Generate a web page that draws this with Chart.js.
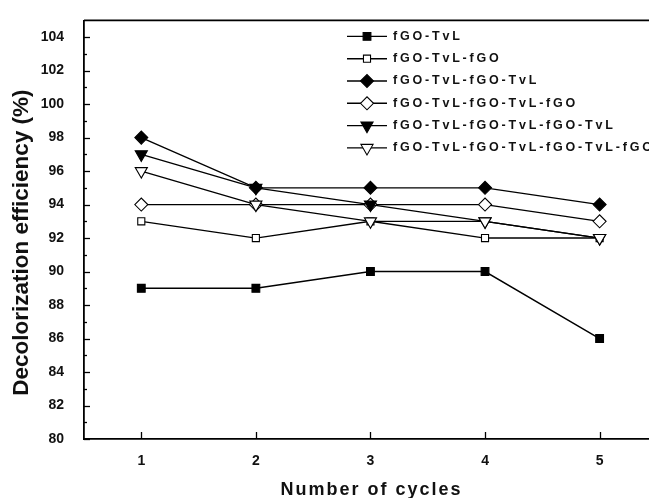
<!DOCTYPE html>
<html><head><meta charset="utf-8">
<script src="https://cdn.jsdelivr.net/npm/chart.js@4.4.0/dist/chart.umd.min.js"></script>
<style>html,body{margin:0;padding:0;overflow:hidden;background:#fff;width:649px;height:498px}canvas{display:block}</style>
</head><body><canvas id="c" width="665" height="498"></canvas>
<script>
// ---- data ----
const cycles = [1, 2, 3, 4, 5];
const seriesNames = ['fGO-TvL', 'fGO-TvL-fGO', 'fGO-TvL-fGO-TvL', 'fGO-TvL-fGO-TvL-fGO', 'fGO-TvL-fGO-TvL-fGO-TvL', 'fGO-TvL-fGO-TvL-fGO-TvL-fGO'];
const s1 = [89, 89, 90, 90, 86];
const s2 = [93, 92, 93, 92, 92];
const s3 = [98, 95, 95, 95, 94];
const s4 = [94, 94, 94, 94, 93];
const s5 = [97, 95, 94, 93, 92];
const s6 = [96, 94, 93, 93, 92];
const yTickValues = [80, 82, 84, 86, 88, 90, 92, 94, 96, 98, 100, 102, 104];
const xTickValues = [1, 2, 3, 4, 5];
const yTitle = 'Decolorization efficiency (%)';
const xTitle = 'Number of cycles';

// ---- styles ----
const seriesValues = [s1, s2, s3, s4, s5, s6];
const markerStyles = [
  {pointStyle: 'rect', radius: 5.5, rotation: 0, fill: '#000'},
  {pointStyle: 'rect', radius: 5, rotation: 0, fill: '#fff'},
  {pointStyle: 'rectRot', radius: 6.5, rotation: 0, fill: '#000'},
  {pointStyle: 'rectRot', radius: 6.5, rotation: 0, fill: '#fff'},
  {pointStyle: 'triangle', radius: 7, rotation: 180, fill: '#000'},
  {pointStyle: 'triangle', radius: 7, rotation: 180, fill: '#fff'}
];

const datasets = seriesNames.map((name, i) => ({
  label: name,
  data: cycles.map((c, j) => ({x: c, y: seriesValues[i][j]})),
  borderColor: '#000',
  borderWidth: 1.4,
  pointStyle: markerStyles[i].pointStyle,
  pointRadius: markerStyles[i].radius,
  pointRotation: markerStyles[i].rotation,
  pointBackgroundColor: markerStyles[i].fill,
  pointBorderColor: '#000',
  pointBorderWidth: 1.1,
  tension: 0,
  fill: false,
  order: -i
}));

const framePlugin = {
  id: 'frame',
  beforeDatasetsDraw(chart) {
    const ctx = chart.ctx, a = chart.chartArea;
    const ys = chart.scales.y, xs = chart.scales.x;
    ctx.save();
    ctx.strokeStyle = '#000';
    ctx.lineWidth = 1.3;
    for (let v = 80; v <= 104; v++) {
      const py = Math.round(ys.getPixelForValue(v)) + 0.5;
      const len = (v % 2 === 0) ? 6 : 3;
      ctx.beginPath(); ctx.moveTo(a.left, py); ctx.lineTo(a.left + len, py); ctx.stroke();
    }
    xTickValues.forEach(v => {
      const px = Math.round(xs.getPixelForValue(v)) + 0.5;
      ctx.beginPath(); ctx.moveTo(px, a.bottom); ctx.lineTo(px, a.bottom - 7); ctx.stroke();
    });
    ctx.lineWidth = 1.8;
    ctx.beginPath();
    ctx.moveTo(a.left, a.top); ctx.lineTo(a.right, a.top); ctx.lineTo(a.right, a.bottom);
    ctx.stroke();
    ctx.restore();
  },
  afterDraw(chart) {
    const ctx = chart.ctx, a = chart.chartArea;
    ctx.save();
    ctx.fillStyle = '#111';
    ctx.font = 'bold 22.5px "Liberation Sans", Arial, sans-serif';
    ctx.textAlign = 'center';
    ctx.textBaseline = 'middle';
    ctx.translate(22, (a.top + a.bottom) / 2 + 13);
    ctx.rotate(-Math.PI / 2);
    ctx.fillText(yTitle, 0, 0);
    ctx.restore();
    ctx.save();
    ctx.fillStyle = '#111';
    ctx.font = 'bold 18px "Liberation Sans", Arial, sans-serif';
    ctx.textAlign = 'center';
    ctx.textBaseline = 'middle';
    try { ctx.letterSpacing = '2px'; } catch (e) {}
    ctx.fillText(xTitle, (a.left + a.right) / 2 + 1, 490);
    ctx.restore();
    // legend
    ctx.save();
    const rowTop = a.top + 16, rowGap = 22.3;
    seriesNames.forEach((name, i) => {
      const y = rowTop + i * rowGap;
      ctx.strokeStyle = '#000';
      ctx.lineWidth = 1.4;
      ctx.beginPath(); ctx.moveTo(347, y); ctx.lineTo(387, y); ctx.stroke();
      ctx.fillStyle = markerStyles[i].fill;
      ctx.strokeStyle = '#000';
      ctx.lineWidth = 1.1;
      Chart.helpers.drawPoint(ctx, {
        pointStyle: markerStyles[i].pointStyle,
        radius: markerStyles[i].radius,
        rotation: markerStyles[i].rotation,
        borderWidth: 1.1
      }, 367, y);
      ctx.fillStyle = '#111';
      ctx.font = 'bold 12.5px "Liberation Sans", Arial, sans-serif';
      try { ctx.letterSpacing = '2.8px'; } catch (e) {}
      ctx.textAlign = 'left';
      ctx.textBaseline = 'middle';
      ctx.fillText(name, 393, y);
      try { ctx.letterSpacing = '0px'; } catch (e) {}
    });
    ctx.restore();
  }
};

new Chart(document.getElementById('c'), {
  type: 'line',
  data: {datasets},
  options: {
    responsive: false,
    animation: false,
    devicePixelRatio: 1,
    layout: {padding: {top: 16, right: 1, left: 0, bottom: 0}},
    plugins: {legend: {display: false}, tooltip: {enabled: false}, title: {display: false}},
    scales: {
      x: {
        type: 'linear', min: 0.5, max: 5.5,
        afterBuildTicks: s => { s.ticks = xTickValues.map(v => ({value: v})); },
        afterFit: s => { s.height = 59; },
        grid: {display: false},
        border: {display: true, color: '#000', width: 1.8},
        ticks: {padding: 6, color: '#111', font: {family: '"Liberation Sans", Arial, sans-serif', size: 14, weight: 'bold'}}
      },
      y: {
        type: 'linear', min: 80, max: 105,
        afterBuildTicks: s => { s.ticks = yTickValues.map(v => ({value: v})); },
        afterFit: s => { s.width = 84; },
        grid: {display: false},
        border: {display: true, color: '#000', width: 1.8},
        ticks: {padding: 12, color: '#111', font: {family: '"Liberation Sans", Arial, sans-serif', size: 14, weight: 'bold'}}
      }
    }
  },
  plugins: [framePlugin]
});
</script>
</body></html>
